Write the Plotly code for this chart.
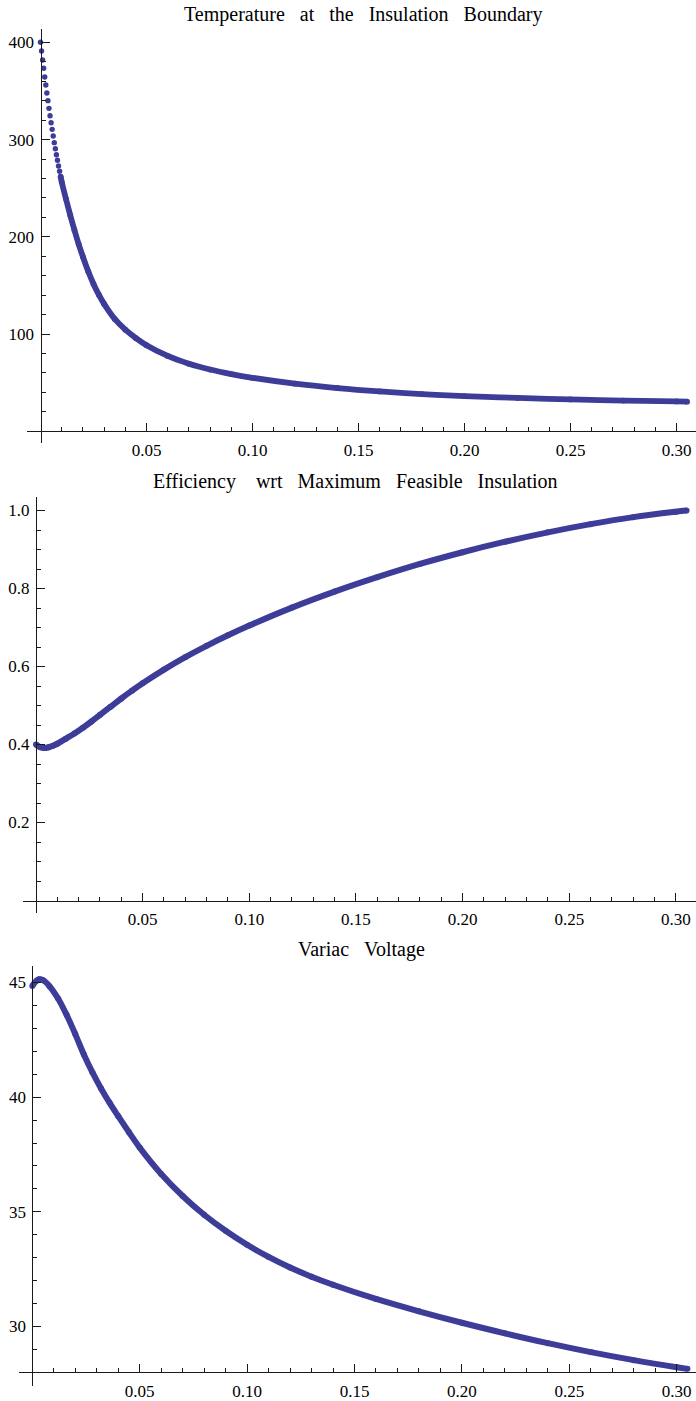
import plotly.graph_objects as go

W, H = 696, 1401
BLUE = "rgb(61,61,153)"
FONT = "Liberation Serif"

# ---- Temperature at the insulation boundary ----
# first samples are far apart vertically and show as separate dots
temp_dot_x = [0.0000, 0.0005, 0.0010, 0.0015, 0.0020, 0.0025, 0.0030, 0.0035, 0.0040, 0.0045,
              0.0050, 0.0055, 0.0060, 0.0065, 0.0070, 0.0075, 0.0080, 0.0085, 0.0090, 0.0095]
temp_dot_y = [400.0, 391.0, 381.8, 373.3, 364.3, 356.1, 347.9, 340.0, 332.1, 324.5,
              317.3, 310.5, 303.6, 296.8, 290.6, 284.4, 278.7, 272.8, 267.4, 261.8]
temp_x = [0.0095, 0.0100, 0.0120, 0.0140, 0.0160, 0.0180, 0.0200, 0.0225, 0.0250, 0.0275,
          0.0300, 0.0350, 0.0400, 0.0450, 0.0500, 0.0600, 0.0700, 0.0800, 0.0900, 0.1000,
          0.1200, 0.1400, 0.1600, 0.1800, 0.2000, 0.2250, 0.2500, 0.2750, 0.3000, 0.3050]
temp_y = [261.8, 256.5, 239.0, 222.5, 207.0, 192.5, 179.5, 164.5, 151.5, 140.5,
          131.0, 115.5, 104.5, 95.8, 88.5, 77.5, 69.5, 63.5, 58.8, 55.0,
          49.0, 44.5, 41.0, 38.3, 36.2, 34.3, 32.8, 31.6, 30.7, 30.5]

# ---- Efficiency wrt maximum feasible insulation ----
eff_x = [0.000, 0.002, 0.004, 0.006, 0.008, 0.010, 0.014, 0.018, 0.022, 0.026,
         0.030, 0.035, 0.040, 0.045, 0.050, 0.060, 0.070, 0.080, 0.090, 0.100,
         0.120, 0.140, 0.160, 0.180, 0.200, 0.220, 0.240, 0.260, 0.280, 0.300, 0.305]
eff_y = [0.400, 0.393, 0.391, 0.393, 0.397, 0.402, 0.415, 0.428, 0.443, 0.459,
         0.476, 0.497, 0.518, 0.538, 0.557, 0.592, 0.624, 0.653, 0.680, 0.705,
         0.751, 0.792, 0.829, 0.863, 0.893, 0.920, 0.944, 0.965, 0.983, 0.997, 1.000]

# ---- Variac voltage ----
volt_x = [0.000, 0.002, 0.0033, 0.005, 0.008, 0.012, 0.016, 0.020, 0.024, 0.028,
          0.032, 0.036, 0.040, 0.045, 0.050, 0.060, 0.070, 0.080, 0.090, 0.100,
          0.110, 0.120, 0.130, 0.140, 0.160, 0.180, 0.200, 0.220, 0.240, 0.260,
          0.280, 0.300, 0.305]
volt_y = [44.85, 45.08, 45.14, 45.10, 44.84, 44.30, 43.58, 42.75, 41.86, 41.08,
          40.38, 39.75, 39.17, 38.47, 37.80, 36.65, 35.69, 34.87, 34.17, 33.56,
          33.03, 32.57, 32.17, 31.82, 31.20, 30.66, 30.16, 29.70, 29.27, 28.88,
          28.53, 28.22, 28.15]

# ---- ticks ----
x_major = [0.05, 0.10, 0.15, 0.20, 0.25, 0.30]
x_major_text = ["0.05", "0.10", "0.15", "0.20", "0.25", "0.30"]
x_minor = [0.01, 0.02, 0.03, 0.04, 0.06, 0.07, 0.08, 0.09, 0.11, 0.12, 0.13, 0.14,
           0.16, 0.17, 0.18, 0.19, 0.21, 0.22, 0.23, 0.24, 0.26, 0.27, 0.28, 0.29]

temp_major = [100, 200, 300, 400]
temp_major_text = ["100", "200", "300", "400"]
temp_minor = [20, 40, 60, 80, 120, 140, 160, 180, 220, 240, 260, 280, 320, 340, 360, 380]

eff_major = [0.2, 0.4, 0.6, 0.8, 1.0]
eff_major_text = ["0.2", "0.4", "0.6", "0.8", "1.0"]
eff_minor = [0.05, 0.10, 0.15, 0.25, 0.30, 0.35, 0.45, 0.50, 0.55, 0.65, 0.70, 0.75,
             0.85, 0.90, 0.95]

volt_major = [30, 35, 40, 45]
volt_major_text = ["30", "35", "40", "45"]
volt_minor = [29, 31, 32, 33, 34, 36, 37, 38, 39, 41, 42, 43, 44]

SP = "&nbsp;&nbsp;&nbsp;"
titles = [SP.join(["Temperature", "at", "the", "Insulation", "Boundary"]),
          SP.join(["Efficiency&nbsp;", "wrt", "Maximum", "Feasible", "Insulation"]),
          SP.join(["Variac", "Voltage"])]

# panel frames in pixels: origin x, px per x unit, left edge,
# value where the horizontal axis sits, its pixel row, px per y unit, top, bottom
panels = [
    dict(ox=40.5, sx=2120.0, left=27.0, yval=0.0, ypx=431.3, sy=0.9725, top=29.3, bottom=443.0,
         title_x=363, title_y=15),
    dict(ox=36.0, sx=2133.0, left=22.7, yval=0.0, ypx=900.5, sy=390.0, top=497.0, bottom=913.0,
         title_x=355, title_y=481),
    dict(ox=32.3, sx=2148.0, left=19.0, yval=28.0, ypx=1372.3, sy=22.93, top=966.0, bottom=1386.0,
         title_x=361, title_y=949),
]
yticks = [(temp_major, temp_major_text, temp_minor),
          (eff_major, eff_major_text, eff_minor),
          (volt_major, volt_major_text, volt_minor)]

fig = go.Figure()

line_style = dict(color=BLUE, width=6, shape="spline")
marker_style = dict(color=BLUE, size=6)

fig.add_trace(go.Scatter(x=temp_dot_x, y=temp_dot_y, mode="markers",
                         marker=dict(color=BLUE, size=5.4), xaxis="x", yaxis="y"))
fig.add_trace(go.Scatter(x=temp_x, y=temp_y, mode="lines+markers",
                         line=dict(color=BLUE, width=5.8, shape="spline"),
                         marker=dict(color=BLUE, size=5.8), xaxis="x", yaxis="y"))
fig.add_trace(go.Scatter(x=eff_x, y=eff_y, mode="lines+markers", line=line_style,
                         marker=marker_style, xaxis="x2", yaxis="y2"))
fig.add_trace(go.Scatter(x=volt_x, y=volt_y, mode="lines+markers", line=line_style,
                         marker=marker_style, xaxis="x3", yaxis="y3"))

tickfont = dict(family=FONT, size=17, color="black")
AXC = "#1a1a1a"
layout = dict(width=W, height=H, margin=dict(l=0, r=0, t=0, b=0),
              paper_bgcolor="white", plot_bgcolor="white", showlegend=False)

annotations = []
for i, p in enumerate(panels):
    k = "" if i == 0 else str(i + 1)
    xr = [(p["left"] - p["ox"]) / p["sx"], (W - p["ox"]) / p["sx"]]
    yr = [p["yval"] - (p["bottom"] - p["ypx"]) / p["sy"], p["yval"] + (p["ypx"] - p["top"]) / p["sy"]]
    layout["xaxis" + k] = dict(
        domain=[p["left"] / W, 1.0], range=xr, anchor="free", position=1 - p["ypx"] / H,
        side="bottom", showgrid=False, zeroline=False, showline=True, linecolor=AXC, linewidth=1,
        tickmode="array", tickvals=x_major, ticktext=x_major_text, ticks="inside", ticklen=8,
        tickwidth=1, tickcolor=AXC, tickfont=tickfont, ticklabelstandoff=3,
        minor=dict(tickmode="array", tickvals=x_minor, ticks="inside", ticklen=4, tickwidth=1,
                   tickcolor=AXC, showgrid=False),
    )
    maj, txt, mnr = yticks[i]
    layout["yaxis" + k] = dict(
        domain=[1 - p["bottom"] / H, 1 - p["top"] / H], range=yr, anchor="free", position=p["ox"] / W,
        side="left", showgrid=False, zeroline=False, showline=True, linecolor=AXC, linewidth=1,
        tickmode="array", tickvals=maj, ticktext=txt, ticks="inside", ticklen=8,
        tickwidth=1, tickcolor=AXC, tickfont=tickfont, ticklabelstandoff=3,
        minor=dict(tickmode="array", tickvals=mnr, ticks="inside", ticklen=4, tickwidth=1,
                   tickcolor=AXC, showgrid=False),
    )
    annotations.append(dict(text=titles[i], xref="paper", yref="paper",
                            x=p["title_x"] / W, y=1 - p["title_y"] / H,
                            xanchor="center", yanchor="middle", showarrow=False,
                            font=dict(family=FONT, size=20, color="black")))

layout["annotations"] = annotations
fig.update_layout(**layout)
fig.write_html("out.html")
